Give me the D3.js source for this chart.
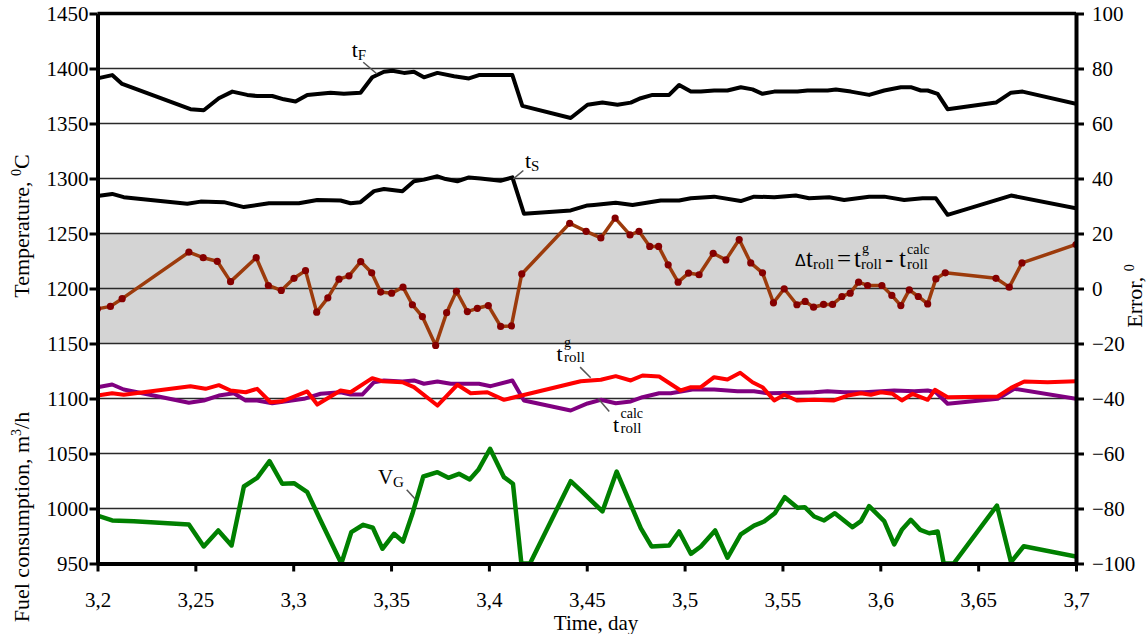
<!DOCTYPE html>
<html>
<head>
<meta charset="utf-8">
<script src="https://cdn.jsdelivr.net/npm/d3@7"></script>
<style>
  body { margin: 0; background: #fff; }
  text { font-family: "Liberation Serif", "Times New Roman", serif; fill: #000; }
</style>
</head>
<body>
<div id="chart"></div>
<script>
// Data: [time (day), value]
let tfData = [[3.2,1391],[3.2075,1394],[3.2126,1386],[3.2475,1363],[3.2543,1362],[3.262,1373],[3.2689,1379],[3.2765,1376],[3.2816,1375],[3.2893,1375],[3.2952,1372],[3.3012,1370],[3.3072,1376],[3.3191,1378],[3.3259,1377],[3.3344,1378],[3.3404,1392],[3.3464,1397],[3.3507,1398],[3.3566,1396],[3.3617,1397],[3.3668,1392],[3.3737,1396],[3.3822,1393],[3.3898,1391],[3.3949,1394],[3.412,1394],[3.4171,1366],[3.4418,1355],[3.4504,1367],[3.458,1369],[3.4657,1367],[3.4725,1369],[3.4776,1373],[3.4836,1376],[3.4921,1376],[3.4972,1385],[3.5032,1379],[3.5083,1379],[3.5151,1380],[3.5219,1380],[3.5287,1383],[3.5347,1381],[3.5398,1377],[3.5458,1379],[3.5577,1379],[3.5628,1380],[3.5731,1380],[3.5773,1381],[3.585,1379],[3.5943,1376],[3.602,1380],[3.6105,1383],[3.6156,1383],[3.6207,1380],[3.6242,1380],[3.6293,1377],[3.6344,1363],[3.6591,1369],[3.6668,1378],[3.6727,1379],[3.7,1368]];

let tsData = [[3.2,1284],[3.2075,1286],[3.2134,1283],[3.2459,1277],[3.2527,1279],[3.2646,1278.5],[3.2748,1274],[3.2876,1277.5],[3.3029,1277.5],[3.3123,1280.5],[3.3242,1280],[3.3293,1277.5],[3.3344,1278.5],[3.3413,1288.5],[3.3464,1290.5],[3.3558,1288.5],[3.3617,1297.5],[3.3668,1299],[3.3737,1302],[3.3779,1299.5],[3.3839,1297.5],[3.3898,1301],[3.3957,1300],[3.4059,1298],[3.412,1301],[3.4179,1268],[3.4418,1271],[3.4504,1275.5],[3.4537,1276],[3.4648,1278],[3.4734,1276],[3.4878,1280],[3.4972,1280],[3.5032,1282],[3.5151,1283.5],[3.5287,1279.5],[3.5355,1283.5],[3.5458,1283],[3.5568,1284.5],[3.5636,1282],[3.5739,1283],[3.5815,1280.5],[3.5943,1283.5],[3.602,1283.5],[3.6122,1280.5],[3.6216,1282],[3.6284,1282],[3.6344,1267],[3.6668,1284.5],[3.7,1273]];

// error, right axis
let errData = [[3.2,-7.4],[3.2066,-6.5],[3.2126,-3.7],[3.2467,13.2],[3.254,11.2],[3.2612,9.9],[3.268,2.5],[3.2811,11.2],[3.2873,1.1],[3.2939,-0.7],[3.3004,3.7],[3.3063,6.5],[3.312,-8.6],[3.3177,-3.4],[3.3234,3.4],[3.3285,4.6],[3.3345,9.8],[3.3401,5.7],[3.3447,-1.3],[3.3503,-1.7],[3.3561,0.5],[3.3609,-5.9],[3.366,-10.2],[3.3728,-20.7],[3.3784,-8.8],[3.3834,-1],[3.389,-8.4],[3.3941,-7.2],[3.3997,-6.2],[3.406,-13.8],[3.4115,-13.6],[3.4168,5.3],[3.4413,23.7],[3.4497,20.8],[3.4572,18.4],[3.4645,25.6],[3.4721,19.5],[3.4767,20.8],[3.4822,15.3],[3.4867,15.3],[3.4916,8.6],[3.4967,2.3],[3.502,5.6],[3.5074,5],[3.5146,12.8],[3.5211,10.4],[3.5279,17.8],[3.5338,9.3],[3.5398,5.7],[3.5454,-5.2],[3.5509,-0.1],[3.5574,-5.9],[3.5616,-4.7],[3.5659,-6.8],[3.571,-5.8],[3.5756,-5.8],[3.5804,-2.9],[3.5846,-1.7],[3.5889,2.3],[3.5935,1.1],[3.6008,1.1],[3.6059,-2.5],[3.6105,-6.2],[3.6148,-0.5],[3.6194,-2.9],[3.6242,-5.6],[3.6284,3.5],[3.6332,5.7],[3.6591,3.7],[3.6659,0.5],[3.6724,9.3],[3.7,16]];

let rollGData = [[3.2,1102.7],[3.2075,1104.8],[3.2134,1103.4],[3.2475,1111.2],[3.2552,1108.8],[3.262,1112.1],[3.268,1107.3],[3.2757,1105.7],[3.2816,1108.8],[3.2884,1096.6],[3.2944,1097.5],[3.3072,1106.4],[3.3123,1094.5],[3.3242,1107.3],[3.3293,1105.7],[3.3404,1118.5],[3.3456,1115.7],[3.3558,1114.8],[3.3617,1110.3],[3.3737,1093.6],[3.3839,1112.5],[3.3907,1104.8],[3.3992,1105.7],[3.4077,1098.8],[3.4146,1101.8],[3.4469,1115.7],[3.4572,1117],[3.4648,1120.3],[3.4725,1116.4],[3.4785,1120.9],[3.487,1120],[3.498,1107.3],[3.5032,1110.3],[3.5083,1110.3],[3.5151,1119.4],[3.5219,1117.3],[3.5284,1123.4],[3.5347,1114.8],[3.5398,1110.3],[3.5458,1098.2],[3.5509,1103.4],[3.5574,1098.2],[3.5662,1098.8],[3.5764,1098.2],[3.5833,1102.7],[3.5901,1104.8],[3.5952,1103.4],[3.6003,1105.7],[3.6063,1104.3],[3.611,1098.2],[3.6165,1104.3],[3.6242,1098.8],[3.6279,1107.9],[3.6344,1101.2],[3.66,1101.8],[3.6668,1109.7],[3.6736,1115.5],[3.6855,1114.8],[3.7,1115.7]];

let rollCalcData = [[3.2,1110.3],[3.2075,1112.7],[3.2134,1108.2],[3.2305,1102.1],[3.2467,1096.1],[3.2543,1098.2],[3.262,1102.7],[3.2697,1104.8],[3.2757,1098.2],[3.2816,1098.2],[3.2893,1095.7],[3.3055,1099.7],[3.314,1104.3],[3.3242,1105.7],[3.3293,1103.6],[3.3353,1103.6],[3.3413,1114.8],[3.3464,1116.4],[3.3558,1115.5],[3.3617,1116.4],[3.3668,1113.4],[3.3737,1115.5],[3.3805,1113.4],[3.3949,1113.4],[3.4009,1111.2],[3.412,1116.4],[3.4179,1098.2],[3.4418,1089.1],[3.4504,1095.5],[3.4572,1098.8],[3.4648,1095.7],[3.4725,1097.3],[3.4785,1101.2],[3.487,1104.8],[3.4929,1104.8],[3.504,1108.2],[3.5151,1108.2],[3.527,1106.6],[3.5355,1106.6],[3.5424,1104.8],[3.5577,1105.2],[3.5662,1105.7],[3.573,1106.6],[3.5815,1105.7],[3.5918,1105.7],[3.6071,1107.3],[3.6173,1106.6],[3.6242,1107.3],[3.6284,1105.7],[3.6344,1095.2],[3.66,1099.7],[3.6685,1108.8],[3.7,1099.7]];

let vgData = [[3.2,993.6],[3.2075,989.1],[3.2186,988.5],[3.2467,985.5],[3.2543,965.5],[3.2617,980],[3.2685,966.4],[3.2748,1020],[3.2816,1027.9],[3.2879,1043],[3.2944,1022.5],[3.3004,1023],[3.3072,1014.8],[3.314,989.1],[3.3246,950],[3.3297,978.5],[3.3358,985.2],[3.3407,982.5],[3.3456,963.4],[3.3515,977],[3.3561,970],[3.3609,995.2],[3.3665,1029.1],[3.3737,1033],[3.3793,1027.9],[3.3847,1031.5],[3.3902,1026.4],[3.3946,1035.2],[3.4006,1054.3],[3.4077,1028.5],[3.4123,1022.5],[3.4166,950],[3.421,950],[3.4418,1024.8],[3.4469,1016.4],[3.458,997.3],[3.4653,1033.6],[3.4776,982.1],[3.4831,965.5],[3.4921,966.4],[3.4972,979.1],[3.5032,958.8],[3.5083,965.5],[3.5156,980],[3.5219,955.2],[3.5287,976.4],[3.5355,984.5],[3.5406,988.2],[3.5461,995.7],[3.5512,1010.3],[3.5577,1000.6],[3.5614,1001.2],[3.5662,992.7],[3.5713,989.1],[3.5768,995.7],[3.5858,983],[3.5901,988.5],[3.5943,1002.1],[3.602,988.5],[3.6071,967.3],[3.611,980.6],[3.6156,989.7],[3.6204,980.6],[3.625,977.5],[3.6293,979.1],[3.6324,950],[3.6375,950],[3.6596,1002.7],[3.6668,951.2],[3.6733,965.7],[3.7,956.4]];

// Ticks
let xTicks = [3.2, 3.25, 3.3, 3.35, 3.4, 3.45, 3.5, 3.55, 3.6, 3.65, 3.7];
let leftTicks = [950, 1000, 1050, 1100, 1150, 1200, 1250, 1300, 1350, 1400, 1450];
let rightTicks = [-100, -80, -60, -40, -20, 0, 20, 40, 60, 80, 100];
let gridValues = [1000, 1050, 1100, 1150, 1200, 1250, 1300, 1350, 1400];
let bandRange = [1150, 1250];

// Svg and plot box
let svgWidth = 1146;
let svgHeight = 634;
let plot = { left: 97.5, right: 1076, top: 13.5, bottom: 563.5 };
let serif = '"Liberation Serif", "Times New Roman", serif';

let svg = d3.select('#chart').append('svg')
    .attr('width', svgWidth)
    .attr('height', svgHeight);

let xScale = d3.scaleLinear().domain([3.2, 3.7]).range([plot.left, plot.right]);
let yLeft = d3.scaleLinear().domain([950, 1450]).range([plot.bottom, plot.top]);
let yRight = d3.scaleLinear().domain([-100, 100]).range([plot.bottom, plot.top]);

let commaFmt = d => String(+d.toFixed(2)).replace('.', ',');

svg.append('defs').append('clipPath').attr('id', 'clip')
    .append('rect')
    .attr('x', plot.left).attr('y', plot.top)
    .attr('width', plot.right - plot.left).attr('height', plot.bottom - plot.top);

// Gray band
svg.append('rect')
    .attr('x', plot.left)
    .attr('y', yLeft(bandRange[1]))
    .attr('width', plot.right - plot.left)
    .attr('height', yLeft(bandRange[0]) - yLeft(bandRange[1]))
    .attr('fill', '#d4d4d4');

// Gridlines
svg.append('g').selectAll('line')
    .data(gridValues).enter()
    .append('line')
    .attr('x1', plot.left).attr('x2', plot.right)
    .attr('y1', d => yLeft(d)).attr('y2', d => yLeft(d))
    .attr('stroke', '#2a2a2a')
    .attr('stroke-width', 1.6);

// Lines
let lines = svg.append('g').attr('clip-path', 'url(#clip)');
let lineLeft = d3.line().x(d => xScale(d[0])).y(d => yLeft(d[1]));
let lineRight = d3.line().x(d => xScale(d[0])).y(d => yRight(d[1]));

lines.append('path').datum(tfData).attr('d', lineLeft)
    .attr('fill', 'none').attr('stroke', '#000').attr('stroke-width', 4).attr('stroke-linejoin', 'round');
lines.append('path').datum(tsData).attr('d', lineLeft)
    .attr('fill', 'none').attr('stroke', '#000').attr('stroke-width', 4).attr('stroke-linejoin', 'round');
lines.append('path').datum(rollCalcData).attr('d', lineLeft)
    .attr('fill', 'none').attr('stroke', '#800080').attr('stroke-width', 4).attr('stroke-linejoin', 'round');
lines.append('path').datum(rollGData).attr('d', lineLeft)
    .attr('fill', 'none').attr('stroke', '#ff0000').attr('stroke-width', 4).attr('stroke-linejoin', 'round');
lines.append('path').datum(vgData).attr('d', lineLeft)
    .attr('fill', 'none').attr('stroke', '#008000').attr('stroke-width', 4.5).attr('stroke-linejoin', 'round');
lines.append('path').datum(errData).attr('d', lineRight)
    .attr('fill', 'none').attr('stroke', '#9c3b0c').attr('stroke-width', 3.5).attr('stroke-linejoin', 'round');
lines.selectAll('circle.errDot')
    .data(errData).enter()
    .append('circle')
    .attr('class', 'errDot')
    .attr('cx', d => xScale(d[0]))
    .attr('cy', d => yRight(d[1]))
    .attr('r', 3.6)
    .attr('fill', '#850000');

// Top frame line
svg.append('line')
    .attr('x1', plot.left).attr('x2', plot.right)
    .attr('y1', yLeft(1450)).attr('y2', yLeft(1450))
    .attr('stroke', '#000').attr('stroke-width', 3.5);

// Axes
function styleAxis(g) {
    g.attr('font-family', serif).attr('font-size', 21);
    g.select('.domain').attr('stroke-width', 4).attr('stroke', '#000');
    g.selectAll('.tick line').attr('stroke-width', 3).attr('stroke', '#000');
    g.selectAll('.tick text')
        .attr('font-family', serif)
        .style('font-family', serif)
        .style('font-size', '21px')
        .attr('fill', '#000');
}

let xAxis = d3.axisBottom(xScale).tickValues(xTicks).tickFormat(commaFmt)
    .tickSize(8).tickSizeOuter(0).tickPadding(21);
svg.append('g').attr('transform', `translate(0, ${plot.bottom})`).call(xAxis).call(styleAxis);

let leftAxis = d3.axisLeft(yLeft).tickValues(leftTicks).tickFormat(d3.format('d'))
    .tickSize(8).tickSizeOuter(0).tickPadding(1);
svg.append('g').attr('transform', `translate(${plot.left}, 0)`).call(leftAxis).call(styleAxis);

let rightAxis = d3.axisRight(yRight).tickValues(rightTicks).tickFormat(d3.format('d'))
    .tickSize(8).tickSizeOuter(0).tickPadding(8);
svg.append('g').attr('transform', `translate(${plot.right}, 0)`).call(rightAxis).call(styleAxis);

// Axis titles
svg.append('text')
    .attr('transform', 'translate(29, 226) rotate(-90)')
    .attr('text-anchor', 'middle')
    .style('font-size', '22px')
    .html('Temperature, <tspan dy="-8" font-size="14px">0</tspan><tspan dy="8">C</tspan>');
svg.append('text')
    .attr('transform', 'translate(29, 517) rotate(-90)')
    .attr('text-anchor', 'middle')
    .style('font-size', '22px')
    .html('Fuel consumption, m<tspan dy="-8" font-size="14px">3</tspan><tspan dy="8">/h</tspan>');
svg.append('text')
    .attr('transform', 'translate(1142, 296) rotate(-90)')
    .attr('text-anchor', 'middle')
    .style('font-size', '22px')
    .html('Error, <tspan dy="-8" font-size="14px">0</tspan>');
svg.append('text')
    .attr('x', 596).attr('y', 630)
    .attr('text-anchor', 'middle')
    .style('font-size', '21px')
    .text('Time, day');

// Curve labels and leaders
function leader(a, b) {
    svg.append('line')
        .attr('x1', xScale(a[0])).attr('y1', yLeft(a[1]))
        .attr('x2', xScale(b[0])).attr('y2', yLeft(b[1]))
        .attr('stroke', '#555').attr('stroke-width', 1.5);
}
function subLabel(pos, main, sub, mainSize, subSize) {
    svg.append('text')
        .attr('x', xScale(pos[0])).attr('y', yLeft(pos[1]))
        .style('font-size', mainSize + 'px')
        .html(`${main}<tspan dy="3" font-size="${subSize}px">${sub}</tspan>`);
}
function supSubLabel(pos, sup, sub, mainSize) {
    let x0 = xScale(pos[0]);
    let y0 = yLeft(pos[1]);
    svg.append('text').attr('x', x0).attr('y', y0).style('font-size', mainSize + 'px').text('t');
    svg.append('text').attr('x', x0 + 7.5).attr('y', y0 - 14).style('font-size', '14px').text(sup);
    svg.append('text').attr('x', x0 + 7.5).attr('y', y0 + 1).style('font-size', '15px').text(sub);
}

subLabel([3.3299, 1410.5], 't', 'F', 22, 15);
leader([3.3358, 1405.7], [3.3427, 1395.2]);

subLabel([3.4184, 1309.1], 't', 'S', 22, 15);
leader([3.4176, 1307.3], [3.4125, 1299.7]);

supSubLabel([3.4346, 1134.5], 'g', 'roll', 22);
leader([3.4466, 1128.5], [3.452, 1118.8]);

supSubLabel([3.4634, 1069.1], 'calc', 'roll', 22);
leader([3.4559, 1099.7], [3.4615, 1088.2]);

subLabel([3.3433, 1022.7], 'V', 'G', 21, 15);
leader([3.358, 1017], [3.3622, 1008.8]);

// Formula inside the band
let fx = xScale(3.5564);
let fy = yLeft(1220);
svg.append('text').attr('x', fx).attr('y', fy - 1)
    .style('font-family', '"Liberation Sans", Arial, sans-serif').style('font-size', '16px').text('\u0394');
svg.append('text').attr('x', fx + 11).attr('y', fy).style('font-size', '25px').text('t');
svg.append('text').attr('x', fx + 18).attr('y', fy + 2).style('font-size', '15px').text('roll');
svg.append('text').attr('x', fx + 42).attr('y', fy).style('font-size', '25px').text('=');
svg.append('text').attr('x', fx + 59).attr('y', fy).style('font-size', '25px').text('t');
svg.append('text').attr('x', fx + 67).attr('y', fy - 14).style('font-size', '14px').text('g');
svg.append('text').attr('x', fx + 66).attr('y', fy + 2).style('font-size', '15px').text('roll');
svg.append('text').attr('x', fx + 90).attr('y', fy).style('font-size', '25px').text('-');
svg.append('text').attr('x', fx + 104).attr('y', fy).style('font-size', '25px').text('t');
svg.append('text').attr('x', fx + 112).attr('y', fy - 13).style('font-size', '14px').text('calc');
svg.append('text').attr('x', fx + 112).attr('y', fy + 2).style('font-size', '15px').text('roll');
</script>
</body>
</html>
